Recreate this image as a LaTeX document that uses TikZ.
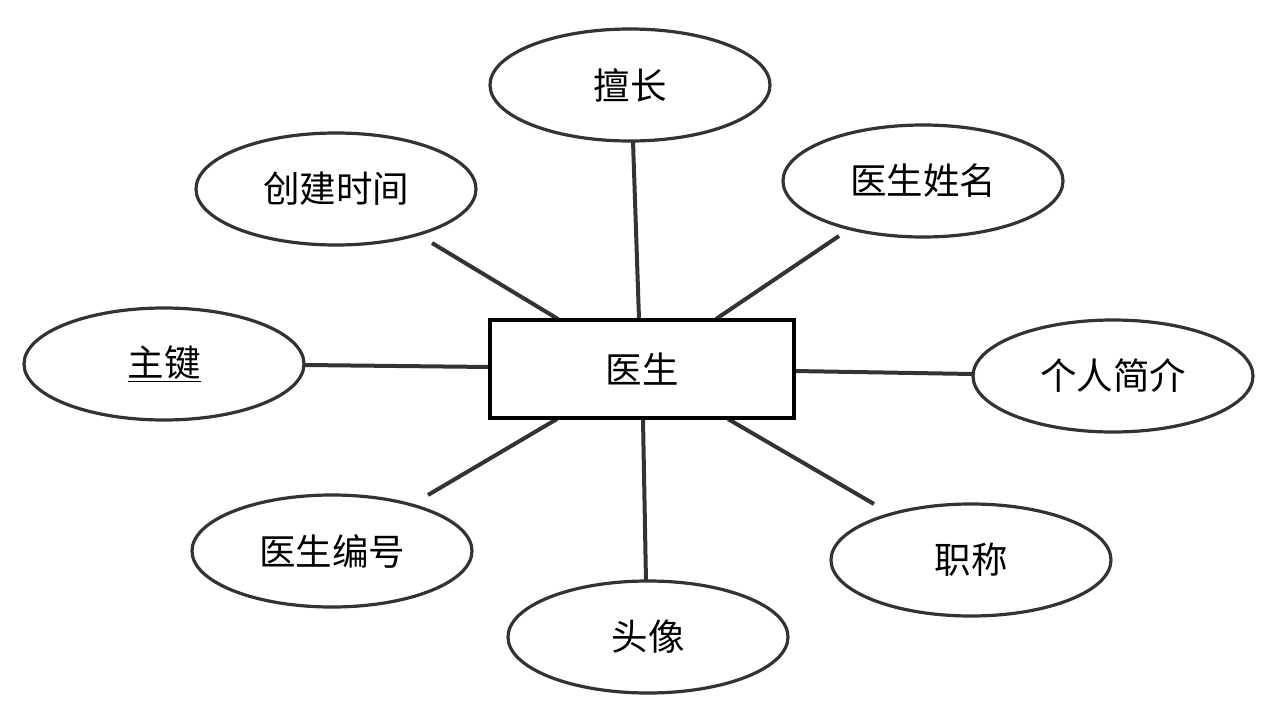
\documentclass[tikz,border=0pt]{standalone}
\usepackage{fontspec}
\setmainfont{Noto Sans CJK SC}
\usetikzlibrary{shapes.geometric}
\definecolor{ln}{HTML}{333333}
\tikzset{
  attr/.style={ellipse, draw=ln, line width=3.2pt, fill=white, minimum width=280pt, minimum height=112pt, inner sep=0pt, font=\fontsize{36.5}{42}\selectfont},
  ent/.style={rectangle, draw=black, line width=4.5pt, fill=white, minimum width=304pt, minimum height=98pt, inner sep=0pt, font=\fontsize{36.5}{42}\selectfont},
  conn/.style={draw=ln, line width=4pt}
}
\begin{document}
\begin{tikzpicture}[x=1pt,y=-1pt]
\fill[white] (0,0) rectangle (1278,720);
\useasboundingbox (0,0) rectangle (1278,720);
% connector end points
\coordinate (scA) at (633,141);  \coordinate (scB) at (639,319);
\coordinate (xmA) at (839,236);  \coordinate (xmB) at (716,319);
\coordinate (cjA) at (432,243);  \coordinate (cjB) at (558,319);
\coordinate (zjA) at (305,365);  \coordinate (zjB) at (490,367);
\coordinate (jjA) at (973,374);  \coordinate (jjB) at (794,371);
\coordinate (bhA) at (428,495);  \coordinate (bhB) at (557,419);
\coordinate (txA) at (646,582);  \coordinate (txB) at (643,419);
\coordinate (zcA) at (874,504);  \coordinate (zcB) at (728,419);
\draw[conn] (scA) -- (scB);
\draw[conn] (xmA) -- (xmB);
\draw[conn] (cjA) -- (cjB);
\draw[conn] (zjA) -- (zjB);
\draw[conn] (jjA) -- (jjB);
\draw[conn] (bhA) -- (bhB);
\draw[conn] (txA) -- (txB);
\draw[conn] (zcA) -- (zcB);
% nodes
\node[ent] (doc) at (642,369) {医生};
\node[attr] (sc) at (630,85) {擅长};
\node[attr] (xm) at (923,181) {医生姓名};
\node[attr] (cj) at (336,189) {创建时间};
\node[attr] (zj) at (164,364) {\underline{主键}};
\node[attr] (jj) at (1113,376) {个人简介};
\node[attr] (bh) at (332,551) {医生编号};
\node[attr] (zc) at (971,560) {职称};
\node[attr] (tx) at (648,637) {头像};
\end{tikzpicture}
\end{document}
